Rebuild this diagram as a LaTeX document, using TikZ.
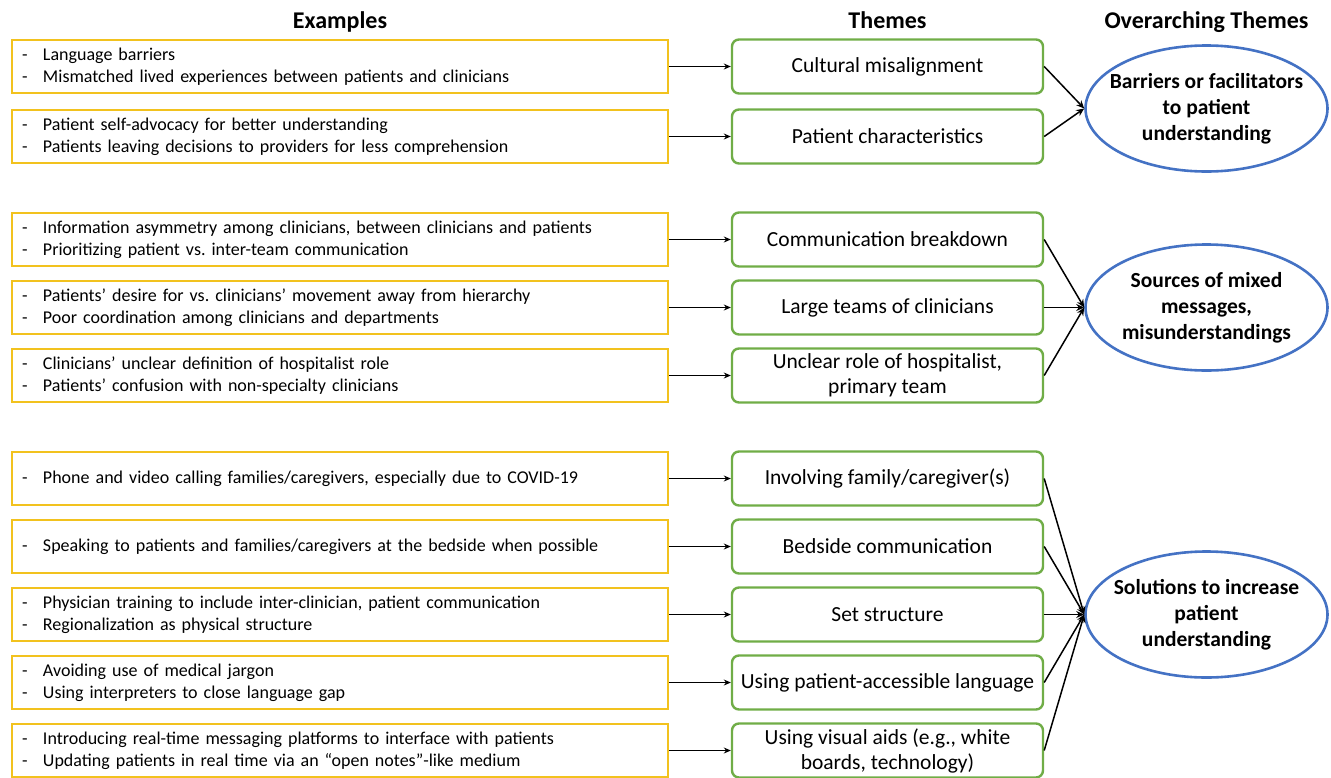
\documentclass[tikz,border=0pt]{standalone}
\usepackage{fontspec}
\setmainfont{Carlito}
\usepackage{xcolor}
\usetikzlibrary{shapes.geometric, arrows.meta, positioning, calc}
\definecolor{exYellow}{RGB}{242, 194, 30}
\definecolor{thGreen}{RGB}{112, 173, 71}
\definecolor{ovBlue}{RGB}{68, 114, 196}
\newcommand{\exline}[1]{\makebox[21pt][l]{-}#1}
\frenchspacing

\begin{document}
\begin{tikzpicture}[
    x=1pt, y=-1pt,
    node distance=12.4pt and 61.5pt,
    exbox/.style={rectangle, draw=exYellow, line width=2.6pt, text width=636pt, inner xsep=10pt, inner ysep=0pt, minimum height=53pt, align=left, font=\fontsize{18}{22}\selectfont},
    thbox/.style={rectangle, draw=thGreen, line width=2.4pt, rounded corners=7pt, minimum width=311pt, minimum height=54pt, inner sep=1pt, align=center, font=\fontsize{21.5}{25}\selectfont},
    ovnode/.style={ellipse, draw=ovBlue, line width=2.6pt, minimum width=242pt, minimum height=126pt, inner xsep=-14pt, inner ysep=0pt, align=center, font=\bfseries\fontsize{21.5}{26}\selectfont},
    head/.style={anchor=base, font=\bfseries\fontsize{24}{28}\selectfont},
    feed/.style={draw=black, line width=0.9pt, -{Stealth[length=7pt,width=6pt]}},
    merge/.style={draw=black, line width=1.5pt, -{Stealth[length=8pt,width=7pt]}}
  ]
    \useasboundingbox (0,0) rectangle (1331,777);

    % examples
    \node[exbox] (e1) at (340,66.5) {\exline{Language barriers}\\\exline{Mismatched lived experiences between patients and clinicians}};
    \node[exbox, below=14.4pt of e1] (e2) {\exline{Patient self-advocacy for better understanding}\\\exline{Patients leaving decisions to providers for less comprehension}};
    \node[exbox, below=47.4pt of e2] (e3) {\exline{Information asymmetry among clinicians, between clinicians and patients}\\\exline{Prioritizing patient vs. inter-team communication}};
    \node[exbox, below=of e3] (e4) {\exline{Patients’ desire for vs. clinicians’ movement away from hierarchy}\\\exline{Poor coordination among clinicians and departments}};
    \node[exbox, below=of e4] (e5) {\exline{Clinicians’ unclear definition of hospitalist role}\\\exline{Patients’ confusion with non-specialty clinicians}};
    \node[exbox, below=47.4pt of e5] (e6) {\exline{Phone and video calling families/caregivers, especially due to COVID-19}};
    \node[exbox, below=of e6] (e7) {\exline{Speaking to patients and families/caregivers at the bedside when possible}};
    \node[exbox, below=of e7] (e8) {\exline{Physician training to include inter-clinician, patient communication}\\\exline{Regionalization as physical structure}};
    \node[exbox, below=of e8] (e9) {\exline{Avoiding use of medical jargon}\\\exline{Using interpreters to close language gap}};
    \node[exbox, below=of e9] (e10) {\exline{Introducing real-time messaging platforms to interface with patients}\\\exline{Updating patients in real time via an “open notes”-like medium}};

    % themes
    \node[thbox, right=of e1] (g1) {Cultural misalignment};
    \node[thbox, right=of e2] (g2) {Patient characteristics};
    \node[thbox, right=of e3] (g3) {Communication breakdown};
    \node[thbox, right=of e4] (g4) {Large teams of clinicians};
    \node[thbox, right=of e5] (g5) {Unclear role of hospitalist,\\primary team};
    \node[thbox, right=of e6] (g6) {Involving family/caregiver(s)};
    \node[thbox, right=of e7] (g7) {Bedside communication};
    \node[thbox, right=of e8] (g8) {Set structure};
    \node[thbox, right=of e9] (g9) {Using patient-accessible language};
    \node[thbox, right=of e10] (g10) {Using visual aids (e.g., white\\boards, technology)};

    % overarching themes
    \coordinate (m1) at ($(g1.east)!0.6!(g2.east)$);
    \node[ovnode, right=40pt of m1] (ov1) {Barriers or facilitators\\to patient\\understanding};
    \node[ovnode, right=40pt of g4] (ov2) {Sources of mixed\\messages,\\misunderstandings};
    \node[ovnode, right=40pt of g8] (ov3) {Solutions to increase\\patient\\understanding};

    % headers
    \coordinate (hl) at (0,28);
    \node[head] (h1) at (e1 |- hl) {Examples};
    \node[head] (h2) at (g1 |- hl) {Themes};
    \node[head] (h3) at (ov1 |- hl) {Overarching Themes};

    \foreach \i in {1,...,10}
      \path[feed] (e\i) -- (g\i);

    \path[merge] (g1.east) -- (ov1.west);
    \path[merge] (g2.east) -- (ov1.west);
    \foreach \i in {3,4,5}
      \path[merge] (g\i.east) -- (ov2.west);
    \foreach \i in {6,...,10}
      \path[merge] (g\i.east) -- (ov3.west);
  \end{tikzpicture}
\end{document}
